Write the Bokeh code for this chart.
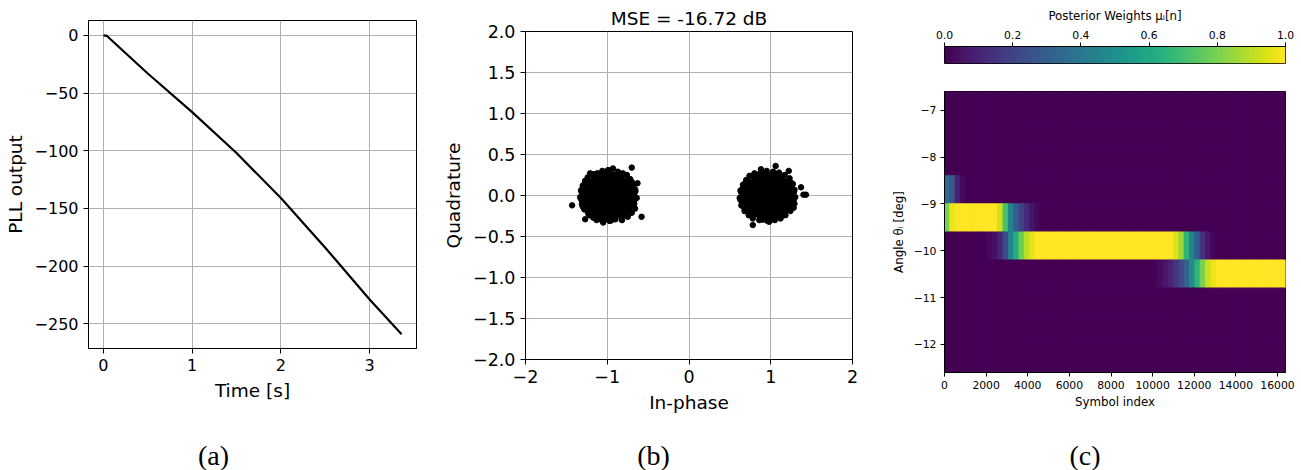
import numpy as np
from bokeh.plotting import figure
from bokeh.layouts import row, column
from bokeh.models import FixedTicker, Range1d, Div, LinearColorMapper, ColumnDataSource
from bokeh.palettes import Viridis256
from bokeh.transform import linear_cmap
from bokeh.embed import file_html
from bokeh.resources import INLINE

# ---------------- Panel (a): PLL output ----------------
time_s = [0.0, 0.04, 0.5, 1.0, 1.5, 2.0, 2.5, 3.0, 3.36]
pll_output = [0.0, -0.5, -33.0, -66.5, -102.0, -141.0, -184.0, -229.0, -259.0]
a_xticks = [0, 1, 2, 3]
a_yticks = [0, -50, -100, -150, -200, -250]

# ---------------- Panel (b): constellation ----------------
mse_title = "MSE = -16.72 dB"
b_xticks = [-2, -1, 0, 1, 2]
b_yticks = [-2.0, -1.5, -1.0, -0.5, 0.0, 0.5, 1.0, 1.5, 2.0]
# dense cores of the two clusters
core_i = [-1.13, -1.04, -0.95, -0.86,
          -1.24, -1.15, -1.06, -0.97, -0.88, -0.79, -0.73,
          -1.28, -1.19, -1.10, -1.01, -0.92, -0.83, -0.74, -0.69,
          -1.29, -1.20, -1.11, -1.02, -0.93, -0.84, -0.75, -0.69,
          -1.27, -1.18, -1.09, -1.00, -0.91, -0.82, -0.73,
          -1.20, -1.11, -1.02, -0.93, -0.84, -0.77,
          -1.05, -0.96,
          0.83, 0.92, 1.01, 1.10,
          0.72, 0.81, 0.90, 0.99, 1.08, 1.17, 1.22,
          0.67, 0.76, 0.85, 0.94, 1.03, 1.12, 1.21, 1.25,
          0.66, 0.75, 0.84, 0.93, 1.02, 1.11, 1.20, 1.25,
          0.70, 0.79, 0.88, 0.97, 1.06, 1.15, 1.21,
          0.78, 0.87, 0.96, 1.05, 1.14,
          0.90, 1.00]
core_q = [0.23, 0.23, 0.23, 0.23,
          0.15, 0.15, 0.15, 0.15, 0.15, 0.15, 0.15,
          0.06, 0.06, 0.06, 0.06, 0.06, 0.06, 0.06, 0.06,
          -0.03, -0.03, -0.03, -0.03, -0.03, -0.03, -0.03, -0.03,
          -0.12, -0.12, -0.12, -0.12, -0.12, -0.12, -0.12,
          -0.21, -0.21, -0.21, -0.21, -0.21, -0.21,
          -0.27, -0.27,
          0.22, 0.22, 0.22, 0.22,
          0.14, 0.14, 0.14, 0.14, 0.14, 0.14, 0.14,
          0.05, 0.05, 0.05, 0.05, 0.05, 0.05, 0.05, 0.05,
          -0.04, -0.04, -0.04, -0.04, -0.04, -0.04, -0.04, -0.04,
          -0.13, -0.13, -0.13, -0.13, -0.13, -0.13, -0.13,
          -0.21, -0.21, -0.21, -0.21, -0.21,
          -0.26, -0.26]
# sparse edge samples and outliers
edge_i = [-1.33, -1.32, -1.31, -1.30, -1.28, -1.27, -1.24, -1.22, -1.18, -1.17,
          -1.12, -1.13, -1.06, -1.05, -0.99, -0.97, -0.93, -0.90, -0.87, -0.82,
          -0.81, -0.76, -0.75, -0.72, -0.70, -0.68, -0.66, -0.67, -0.64, -0.63,
          -0.66, -0.70, -1.43, -0.58, -1.27, -1.21,
          0.62, 0.63, 0.64, 0.66, 0.68, 0.70, 0.74, 0.73, 0.80, 0.78,
          0.88, 0.86, 0.95, 0.96, 1.03, 1.05, 1.10, 1.12, 1.17, 1.18,
          1.23, 1.24, 1.27, 1.29, 1.30, 1.29, 1.28,
          0.78, 1.06, 1.37, 1.43, 1.40, 0.88, 1.22, 0.98]
edge_q = [-0.02, 0.06, -0.10, 0.12, -0.17, 0.18, 0.22, -0.23, 0.26, -0.27,
          0.27, -0.30, 0.30, -0.33, 0.31, -0.31, 0.33, -0.29, 0.29, -0.30,
          0.27, 0.25, -0.26, 0.20, -0.21, 0.14, 0.05, -0.10, -0.03, 0.15,
          -0.16, 0.34, -0.12, -0.26, -0.29, 0.27,
          -0.03, 0.06, -0.12, 0.13, -0.19, 0.19, 0.24, -0.24, 0.27, -0.28,
          0.29, -0.30, 0.30, -0.31, 0.29, -0.30, 0.28, -0.28, 0.25, -0.24,
          0.21, -0.19, 0.14, 0.07, -0.02, -0.10, -0.15,
          -0.36, 0.36, 0.10, 0.01, 0.01, 0.32, 0.30, -0.32]

# ---------------- Panel (c): posterior weights ----------------
bin_width = 256
n_bins = 64
angle_rows = [-6.9, -7.5, -8.1, -8.7, -9.3, -9.9, -10.5, -11.1, -11.7, -12.3]
w_m87 = [0.35, 0.28, 0.10, 0.02] + [0.0] * 60
w_m93 = [0.80, 0.97] + [1.0] * 8 + [0.93, 0.72, 0.45, 0.30, 0.20, 0.12, 0.06, 0.02] + [0.0] * 46
w_m99 = [0.0] * 8 + [0.02, 0.05, 0.10, 0.22, 0.45, 0.62, 0.78, 0.90, 0.96] + [1.0] * 26 + \
        [0.95, 0.85, 0.65, 0.45, 0.30, 0.15, 0.07, 0.02] + [0.0] * 13
w_m105 = [0.0] * 39 + [0.01, 0.03, 0.06, 0.10, 0.15, 0.22, 0.32, 0.48, 0.65, 0.80, 0.92, 0.97] + [1.0] * 13
w_zero = [0.0] * 64
weights_rows = [w_zero, w_zero, w_zero, w_m87, w_m93, w_m99, w_m105, w_zero, w_zero, w_zero]
c_xticks = [0, 2000, 4000, 6000, 8000, 10000, 12000, 14000, 16000]
c_yticks = [-7, -8, -9, -10, -11, -12]
cb_ticks = [0.0, 0.2, 0.4, 0.6, 0.8, 1.0]

FONT = "DejaVu Sans"


def mlabel(v, fmt):
    return fmt.format(v).replace("-", "\u2212")


def style(p, tick_px, label_px, tick_len, grid=True):
    p.outline_line_color = "black"
    p.outline_line_alpha = 1.0
    p.outline_line_width = 1
    p.background_fill_color = "white"
    p.border_fill_color = "white"
    for ax in p.axis:
        ax.axis_line_color = "black"
        ax.major_tick_line_color = "black"
        ax.minor_tick_line_color = None
        ax.major_tick_out = tick_len
        ax.major_tick_in = 0
        ax.major_label_standoff = tick_len
        ax.major_label_text_font = FONT
        ax.major_label_text_font_size = tick_px
        ax.major_label_text_color = "black"
        ax.axis_label_text_font = FONT
        ax.axis_label_text_font_style = "normal"
        ax.axis_label_text_font_size = label_px
        ax.axis_label_text_color = "black"
        ax.axis_label_standoff = 6
    if grid:
        p.grid.grid_line_color = "#b0b0b0"
        p.grid.grid_line_width = 1
    else:
        p.grid.grid_line_color = None


# ---- figure (a)  (canvas 0..440 x 0..432, frame 88..416 x 20..348)
pa = figure(width=440, height=432, output_backend="svg", toolbar_location=None,
            x_range=Range1d(-0.168, 3.528), y_range=Range1d(-271.4, 12.9),
            min_border_left=88, min_border_right=24, min_border_top=20, min_border_bottom=84)
pa.line(time_s, pll_output, line_color="black", line_width=2.2)
pa.xaxis.ticker = FixedTicker(ticks=a_xticks)
pa.yaxis.ticker = FixedTicker(ticks=a_yticks)
pa.xaxis.major_label_overrides = {t: mlabel(t, "{:d}") for t in a_xticks}
pa.yaxis.major_label_overrides = {t: mlabel(t, "{:d}") for t in a_yticks}
pa.xaxis.axis_label = "Time [s]"
pa.yaxis.axis_label = "PLL output"
style(pa, "16px", "18.5px", 5)

# ---- figure (b)  (canvas 440..880, frame 523..852 x 31..359)
pb = figure(width=440, height=432, output_backend="svg", toolbar_location=None,
            x_range=Range1d(-2, 2), y_range=Range1d(-2, 2),
            min_border_left=83, min_border_right=28, min_border_top=31, min_border_bottom=73)
pb.title.text = mse_title
pb.title.align = "center"
pb.title.text_font = FONT
pb.title.text_font_size = "18.5px"
pb.title.text_font_style = "normal"
pb.title.text_color = "black"
pb.title.standoff = 5
pb.scatter(core_i, core_q, size=11, color="black")
pb.scatter(edge_i, edge_q, size=5.5, color="black")
pb.xaxis.ticker = FixedTicker(ticks=b_xticks)
pb.yaxis.ticker = FixedTicker(ticks=b_yticks)
pb.xaxis.major_label_overrides = {t: mlabel(t, "{:d}") for t in b_xticks}
pb.yaxis.major_label_overrides = {t: mlabel(t, "{:.1f}") for t in b_yticks}
pb.xaxis.axis_label = "In-phase"
pb.yaxis.axis_label = "Quadrature"
style(pb, "17.5px", "18.5px", 5)

# ---- colorbar (c, top)  (canvas 880..1301 x 0..68, bar 944..1285 x 46..63)
pcb = figure(width=421, height=68, output_backend="svg", toolbar_location=None,
             x_range=Range1d(0, 1), y_range=Range1d(0, 1),
             x_axis_location="above", y_axis_location=None,
             min_border_left=64, min_border_right=16, min_border_top=46, min_border_bottom=5)
cmap = LinearColorMapper(palette=Viridis256, low=0, high=1)
gradient = np.linspace(0, 1, 256).reshape(1, 256)
pcb.image(image=[gradient], x=0, y=0, dw=1, dh=1, color_mapper=cmap)
pcb.xaxis.ticker = FixedTicker(ticks=cb_ticks)
pcb.xaxis.major_label_overrides = {t: "{:.1f}".format(t) for t in cb_ticks}
pcb.xaxis.axis_label = "Posterior Weights \u03bc\u1d62[n]"
style(pcb, "10.8px", "11.8px", 4, grid=False)
pcb.xaxis.axis_label_standoff = 5

# ---- heatmap (c)  (canvas 880..1301 x 68..432, frame 944..1285 x 91..372)
xs, ys, ws = [], [], []
for ang, vals in zip(angle_rows, weights_rows):
    for k, v in enumerate(vals):
        xs.append(bin_width * k + bin_width / 2)
        ys.append(ang)
        ws.append(v)
src = ColumnDataSource(dict(x=xs, y=ys, w=ws))
ph = figure(width=421, height=364, output_backend="svg", toolbar_location=None,
            x_range=Range1d(0, bin_width * n_bins), y_range=Range1d(-12.6, -6.6),
            min_border_left=64, min_border_right=16, min_border_top=23, min_border_bottom=60)
ph.background_fill_color = Viridis256[0]
cm = linear_cmap("w", Viridis256, 0, 1)
ph.rect(x="x", y="y", width=bin_width, height=0.6, source=src,
        fill_color=cm, line_color=cm, line_width=1.2)
ph.xaxis.ticker = FixedTicker(ticks=c_xticks)
ph.yaxis.ticker = FixedTicker(ticks=c_yticks)
ph.xaxis.major_label_overrides = {t: str(t) for t in c_xticks}
ph.yaxis.major_label_overrides = {t: mlabel(t, "{:d}") for t in c_yticks}
ph.xaxis.axis_label = "Symbol index"
ph.yaxis.axis_label = "Angle \u03b8\u1d62 [deg]"
style(ph, "10.8px", "11.8px", 4, grid=False)
ph.background_fill_color = Viridis256[0]
ph.xaxis.axis_label_standoff = 3
ph.yaxis.axis_label_standoff = 5


def caption(txt, w):
    return Div(text=('<div style="font-family:\'Liberation Serif\',serif;font-size:28px;'
                     'line-height:26px;text-align:center;padding-top:11px;width:%dpx;">%s</div>') % (w, txt),
               width=w, height=37, margin=(0, 0, 0, 0))


caps = row(caption("(a)", 427), caption("(b)", 453), caption("(c)", 410))
layout = column(row(column(pa), column(pb), column(pcb, ph)), caps)

open("out.html", "w").write(file_html(layout, INLINE))
